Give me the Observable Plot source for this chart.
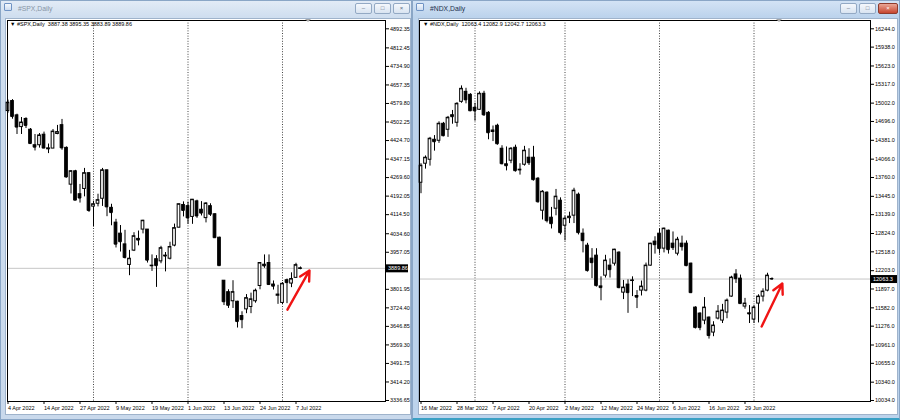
<!DOCTYPE html>
<html><head><meta charset="utf-8">
<script src="https://cdn.jsdelivr.net/npm/d3@7"></script>
<script src="https://cdn.jsdelivr.net/npm/@observablehq/plot@0.6"></script>
<style>
html,body{margin:0;padding:0}
body{width:900px;height:420px;overflow:hidden;position:relative;background:#aac3df;font-family:"Liberation Sans",Arial,sans-serif}
.win{position:absolute;top:0;height:420px;box-sizing:border-box;border:1px solid #8aa6c6;background:linear-gradient(to bottom,#e2ebf6 0px,#cfdeef 16px,#c9d9ec 100%)}
.win.active{background:linear-gradient(to bottom,#d3e3f5 0px,#bcd3ec 16px,#bcd3ec 100%);border-bottom:2px solid #3aa0c4}
.ttl{position:absolute;top:3px;left:17px;font-size:6.8px;color:#8795a6;line-height:9px;white-space:nowrap}
.active .ttl{color:#1d2f4a}
.icon{position:absolute;left:3px;top:2px;width:8px;height:8px;box-sizing:border-box;border:1px solid #6f93c4;background:linear-gradient(#f4f8fd,#cddcf0);border-radius:1px}
.btn{position:absolute;top:2px;height:11px;box-sizing:border-box;border:1px solid #93a9c4;border-radius:2px;background:linear-gradient(#f5f8fc,#d9e4f1);font-size:6px;line-height:9px;text-align:center;color:#5b6b80}
.btn.x-act{background:linear-gradient(#eaa796,#c7452e);border-color:#8f3b2c;color:#fff}
.client{position:absolute;top:17px;background:#fff;box-sizing:border-box;border:1px solid #9fb3cb}
.hdr{position:absolute;top:21px;font-size:5.5px;color:#000;white-space:nowrap;line-height:7px;z-index:5}
.shift{position:absolute;top:19px;width:0;height:0;border-left:3px solid transparent;border-right:3px solid transparent;border-top:3px solid #a8a8a8;z-index:5}
svg.chart{position:absolute;top:0;z-index:3}
</style></head><body>
<div class="win" style="left:0;width:412px">
  <div class="icon"></div><div class="ttl">#SPX,Daily</div>
  <div class="btn" style="left:354px;width:17px">&#8211;</div>
  <div class="btn" style="left:373px;width:17px">&#9633;</div>
  <div class="btn" style="left:392px;width:17px">&#215;</div>
  <div class="client" style="left:4px;width:406px;height:397px"></div>
</div>
<div class="win active" style="left:412px;width:488px">
  <div class="icon"></div><div class="ttl">#NDX,Daily</div>
  <div class="btn" style="left:427px;width:17px">&#8211;</div>
  <div class="btn" style="left:446px;width:17px">&#9633;</div>
  <div class="btn x-act" style="left:465px;width:20px">&#215;</div>
  <div class="client" style="left:5px;width:480px;height:397px"></div>
</div>
<div class="hdr" style="left:10px">&#9660; #SPX,Daily&nbsp; 3887.38 3895.35 3883.89 3889.86</div>
<div class="hdr" style="left:423px">&#9660; #NDX,Daily&nbsp; 12063.4 12082.9 12042.7 12063.3</div>
<div class="shift" style="left:305px"></div>
<div class="shift" style="left:776px"></div>
<script>
// ---------------- S&P 500 (#SPX, Daily) ----------------
const spxDates = ["2022-04-04","2022-04-05","2022-04-06","2022-04-07","2022-04-08","2022-04-11","2022-04-12","2022-04-13","2022-04-14","2022-04-18",
"2022-04-19","2022-04-20","2022-04-21","2022-04-22","2022-04-25","2022-04-26","2022-04-27","2022-04-28","2022-04-29","2022-05-02",
"2022-05-03","2022-05-04","2022-05-05","2022-05-06","2022-05-09","2022-05-10","2022-05-11","2022-05-12","2022-05-13","2022-05-16",
"2022-05-17","2022-05-18","2022-05-19","2022-05-20","2022-05-23","2022-05-24","2022-05-25","2022-05-26","2022-05-27","2022-05-31",
"2022-06-01","2022-06-02","2022-06-03","2022-06-06","2022-06-07","2022-06-08","2022-06-09","2022-06-10","2022-06-13","2022-06-14",
"2022-06-15","2022-06-16","2022-06-17","2022-06-21","2022-06-22","2022-06-23","2022-06-24","2022-06-27","2022-06-28","2022-06-29",
"2022-06-30","2022-07-01","2022-07-05","2022-07-06","2022-07-07","2022-07-08"];
const spxOpen = [4548,4590,4530,4481,4515,4470,4405,4405,4449,4388,
4391,4452,4489,4394,4240,4296,4200,4222,4288,4148,
4160,4181,4300,4143,4081,4035,3990,3904,3964,4013,
4052,4052,3899,3928,3919,3943,3930,3985,4060,4155,
4150,4105,4170,4135,4100,4150,4116,4018,3838,3790,
3752,3750,3690,3718,3728,3752,3816,3905,3912,3822,
3775,3745,3840,3826,3850,3887.38];
const spxHigh = [4594,4596,4535,4521,4520,4475,4450,4454,4460,4410,
4471,4488,4513,4398,4299,4300,4241,4308,4290,4170,
4200,4308,4301,4158,4095,4069,4049,3965,4039,4046,
4091,4052,3946,3943,3982,3956,3999,4075,4158,4168,
4167,4178,4175,4169,4165,4160,4119,4020,3838,3800,
3838,3752,3708,3780,3786,3803,3914,3946,3946,3837,
3819,3830,3845,3871,3911,3895.35];
const spxLow = [4539,4514,4450,4450,4475,4408,4381,4393,4391,4370,
4391,4449,4384,4268,4201,4175,4163,4189,4124,4063,
4147,4149,4106,4068,3975,3958,3929,3859,3960,3984,
4034,3912,3877,3810,3909,3875,3925,3980,4058,4105,
4074,4074,4099,4109,4080,4107,4017,3900,3734,3722,
3722,3640,3637,3700,3700,3744,3800,3890,3820,3799,
3739,3738,3742,3809,3849,3883.89];
const spxClose = [4583,4525,4481,4500,4488,4412,4397,4446,4393,4392,
4462,4460,4394,4272,4296,4175,4184,4288,4132,4158,
4175,4300,4147,4123,3991,4001,3935,3930,4024,4008,
4089,3924,3901,3901,3974,3941,3979,4058,4158,4132,
4101,4177,4109,4121,4161,4116,4018,3901,3750,3735,
3790,3667,3675,3765,3760,3796,3912,3900,3822,3815,
3780,3825,3830,3845,3903,3889.86];
const spxPriceTicks = [4892.35,4812.45,4734.90,4657.35,4579.80,4502.25,4424.70,4347.15,4269.60,4192.05,4114.50,
4034.60,3957.05,3801.95,3724.40,3646.85,3569.30,3491.75,3414.20,3336.65];
const spxTickDates = ["2022-04-04","2022-04-14","2022-04-27","2022-05-09","2022-05-19","2022-06-01","2022-06-13","2022-06-24","2022-07-07"];
const spxArrow = [{i1: 62.1, p1: 3717, i2: 67.0, p2: 3881}];

// ---------------- Nasdaq 100 (#NDX, Daily) ----------------
const ndxDates = ["2022-03-16","2022-03-17","2022-03-18","2022-03-21","2022-03-22","2022-03-23","2022-03-24","2022-03-25","2022-03-28","2022-03-29",
"2022-03-30","2022-03-31","2022-04-01","2022-04-04","2022-04-05","2022-04-06","2022-04-07","2022-04-08","2022-04-11","2022-04-12",
"2022-04-13","2022-04-14","2022-04-18","2022-04-19","2022-04-20","2022-04-21","2022-04-22","2022-04-25","2022-04-26","2022-04-27",
"2022-04-28","2022-04-29","2022-05-02","2022-05-03","2022-05-04","2022-05-05","2022-05-06","2022-05-09","2022-05-10","2022-05-11",
"2022-05-12","2022-05-13","2022-05-16","2022-05-17","2022-05-18","2022-05-19","2022-05-20","2022-05-23","2022-05-24","2022-05-25",
"2022-05-26","2022-05-27","2022-05-31","2022-06-01","2022-06-02","2022-06-03","2022-06-06","2022-06-07","2022-06-08","2022-06-09",
"2022-06-10","2022-06-13","2022-06-14","2022-06-15","2022-06-16","2022-06-17","2022-06-21","2022-06-22","2022-06-23","2022-06-24",
"2022-06-27","2022-06-28","2022-06-29","2022-06-30","2022-07-01","2022-07-05","2022-07-06","2022-07-07","2022-07-08"];
const ndxOpen = [13672,13990,14056,14390,14373,14657,14557,14800,14674,15024,
15191,15141,14924,14891,15158,14840,14520,14624,14240,13980,
14040,14257,13880,13973,14090,14090,13739,13205,13506,13088,
13238,13372,12954,13080,13122,13472,12821,12621,12404,12454,
11940,12120,12287,12320,12504,11836,11970,12030,11780,11870,
11870,12287,12688,12821,12571,12871,12654,12487,12654,12654,
12320,11586,11486,11369,11419,11169,11403,11369,11503,11770,
12140,12070,11603,11490,11386,11653,11770,11870,12063.4];
const ndxHigh = [13990,14120,14430,14460,14690,14680,14780,14880,15010,15290,
15250,15160,15000,15190,15200,14860,14620,14650,14290,14270,
14260,14300,13990,14280,14240,14280,13760,13540,13520,13260,
13560,13420,13110,13180,13580,13500,12900,12660,12571,12570,
12100,12460,12400,12560,12520,12040,12050,12100,11870,12030,
12330,12660,12770,12900,12915,12880,12850,12760,12780,12700,
12330,11600,11500,11753,11430,11350,11620,11640,11730,12110,
12220,12130,11740,11620,11620,11800,11900,12160,12082.9];
const ndxLow = [13489,13900,13950,14200,14330,14440,14430,14650,14600,15000,
14990,14860,14700,14880,14780,14390,14360,14300,13970,13870,
13990,13850,13800,13950,13960,13700,13330,13050,13000,12900,
13120,12800,12700,12990,12990,12800,12500,12180,12070,11930,
11700,12080,12080,12280,11900,11720,11490,11770,11570,11780,
11850,12280,12480,12480,12500,12480,12540,12450,12530,12270,
11820,11230,11200,11300,11060,11100,11380,11320,11400,11760,
11990,11640,11560,11320,11320,11330,11680,11850,12042.7];
const ndxClose = [13956,14090,14407,14357,14657,14457,14757,14775,14990,15241,
15057,14874,14874,15158,14807,14507,14545,14323,13990,13956,
14240,13873,13890,14207,14006,13723,13355,13522,13038,12988,
13439,12838,13071,13105,13539,12838,12704,12204,12337,11953,
11920,12371,12220,12554,11920,11920,11836,12040,11760,11937,
12287,12654,12637,12571,12905,12554,12588,12721,12604,12287,
11836,11252,11252,11586,11119,11286,11519,11536,11703,12087,
12070,11653,11653,11480,11586,11770,11853,12120,12063.3];
const ndxPriceTicks = [16244.0,15938.0,15623.0,15317.0,15002.0,14696.0,14381.0,14066.0,13760.0,13445.0,13139.0,
12824.0,12518.0,12203.0,11897.0,11582.0,11276.0,10961.0,10655.0,10340.0,10034.0];
const ndxTickDates = ["2022-03-16","2022-03-28","2022-04-07","2022-04-20","2022-05-02","2022-05-12","2022-05-24","2022-06-06","2022-06-16","2022-06-29"];
const ndxArrow = [{i1: 75.7, p1: 11270, i2: 80.3, p2: 11989}];

const fmtDate = d3.utcFormat("%-d %b %Y");
const FONT = "Liberation Sans, Arial, sans-serif";

function drawChart(cfg) {
  const bars = cfg.dates.map((d, i) => ({
    i, date: new Date(d + "T00:00:00Z"),
    open: cfg.open[i], high: cfg.high[i], low: cfg.low[i], close: cfg.close[i]
  }));
  const seps = bars.filter((b, k) => k > 0 && b.date.getUTCMonth() !== bars[k - 1].date.getUTCMonth());
  const tickIdx = cfg.tickDates.map(t => cfg.dates.indexOf(t));
  const last = bars[bars.length - 1];
  const [d0, d1] = cfg.xDomain;
  const unit = (cfg.width - cfg.ml - cfg.mr) / (d1 - d0);
  const hw = 0.3;
  const fs = 5.5;
  const svg = Plot.plot({
    width: cfg.width, height: 420,
    marginLeft: cfg.ml, marginRight: cfg.mr, marginTop: 20, marginBottom: 19,
    style: {background: "none", fontFamily: FONT, fontSize: "5.5px", color: "#000", overflow: "visible"},
    x: {type: "linear", domain: cfg.xDomain},
    y: {type: "linear", domain: cfg.yDomain},
    color: {type: "identity"},
    marks: [
      Plot.ruleX(seps, {x: "i", stroke: "#444", strokeDasharray: "1,1.6"}),
      Plot.ruleY([last], {y: "close", stroke: "#c6c6c6"}),
      Plot.ruleX(bars, {x: "i", y1: "low", y2: "high", stroke: "#000"}),
      Plot.rect(bars, {x1: d => d.i - hw, x2: d => d.i + hw, y1: "open", y2: "close",
        fill: d => d.close >= d.open ? "#fff" : "#000", stroke: "#000"}),
      Plot.ruleY(bars, {x1: d => d.i - hw, x2: d => d.i + hw, y: "close", stroke: "#000"}),
      Plot.arrow(cfg.arrow, {x1: "i1", y1: "p1", x2: "i2", y2: "p2", stroke: "#f01414",
        strokeWidth: 2.4, headLength: 7, headAngle: 55}),
      Plot.frame({stroke: "#000"}),
      Plot.axisY(cfg.priceTicks, {anchor: "right", tickSize: 3, tickPadding: 1.5, fontSize: fs, fontFamily: FONT,
        tickFormat: v => v.toFixed(cfg.dec)}),
      Plot.axisX(tickIdx, {anchor: "bottom", tickSize: 3, tickPadding: 1.5, fontSize: fs, fontFamily: FONT,
        textAnchor: "start", tickFormat: i => fmtDate(bars[i].date)}),
      Plot.ruleY([last], {y: "close", x1: d1 + 1 / unit, x2: d1 + cfg.boxW / unit, stroke: "#000", strokeWidth: 8}),
      Plot.text([last], {y: "close", x: d1 + 2.5 / unit, text: d => d.close.toFixed(cfg.dec),
        fill: "#fff", textAnchor: "start", fontSize: fs, fontFamily: FONT})
    ]
  });
  svg.classList.add("chart");
  svg.style.position = "absolute";
  svg.style.left = cfg.left + "px";
  svg.style.top = "0px";
  document.body.appendChild(svg);
}

drawChart({
  dates: spxDates, open: spxOpen, high: spxHigh, low: spxLow, close: spxClose,
  priceTicks: spxPriceTicks, tickDates: spxTickDates, arrow: spxArrow, dec: 2,
  left: 0, width: 412, ml: 7, mr: 27,
  xDomain: [(7 - 7.5) / 4.5, (385 - 7.5) / 4.5],
  yDomain: [3332.46, 4927.09], boxW: 23
});
drawChart({
  dates: ndxDates, open: ndxOpen, high: ndxHigh, low: ndxLow, close: ndxClose,
  priceTicks: ndxPriceTicks, tickDates: ndxTickDates, arrow: ndxArrow, dec: 1,
  left: 412, width: 488, ml: 7, mr: 30,
  xDomain: [(419 - 420.5) / 4.5, (870 - 420.5) / 4.5],
  yDomain: [10017.29, 16382.67], boxW: 27
});
</script>
</body></html>
